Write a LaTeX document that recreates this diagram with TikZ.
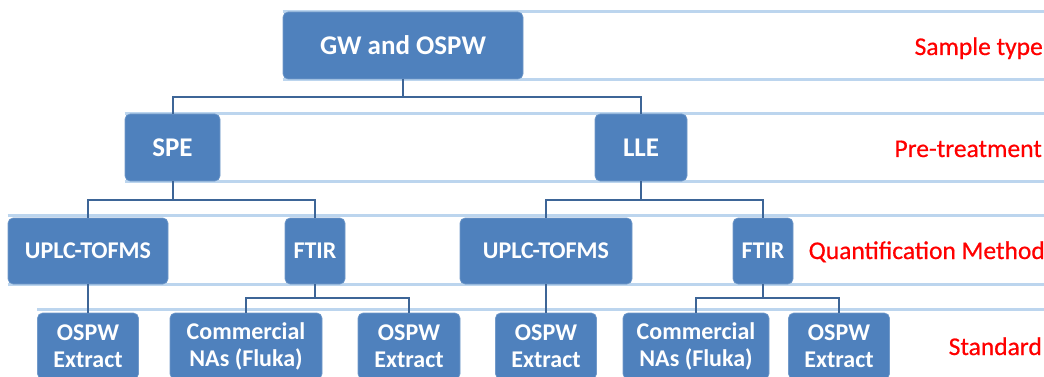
\documentclass[tikz,border=0pt]{standalone}
\usepackage{fontspec}
\setmainfont{Carlito}
\newfontfamily\levelfont{Carlito}[FakeBold=0.6]
\usetikzlibrary{backgrounds}
\definecolor{boxblue}{HTML}{4F81BD}
\definecolor{linkblue}{HTML}{3D6597}
\definecolor{bandblue}{HTML}{BCD5EE}
\begin{document}
\begin{tikzpicture}[x=1pt,y=-1pt,
	box/.style={draw=boxblue!80!white,line width=0.6pt,fill=boxblue,rounded corners=5pt,
		text=white,font=\bfseries\fontsize{24}{27}\selectfont,align=center,inner sep=0pt,minimum height=66pt},
	bigbox/.style={box,font=\bfseries\fontsize{27}{30}\selectfont,minimum height=67pt},
	link/.style={draw=linkblue,line width=2pt},
	band/.style={draw=bandblue,line width=2.6pt},
	level/.style={anchor=base east,text=red,font=\levelfont\fontsize{25.5}{28}\selectfont,inner sep=0pt}]
\clip (0,0) rectangle (1044,377);
\coordinate (E) at (1044,0);
% boxes
\node[bigbox,minimum width=240pt] (gw) at (403,45.5) {GW and OSPW};
\node[bigbox,minimum width=95pt] (spe) at (172.5,147.5) {SPE};
\node[bigbox,minimum width=92pt] (lle) at (641,147.5) {LLE};
\node[box,minimum width=160pt] (uplcA) at (88,251) {UPLC-TOFMS};
\node[box,minimum width=60pt] (ftirA) at (315,251) {FTIR};
\node[box,minimum width=172pt] (uplcB) at (546,251) {UPLC-TOFMS};
\node[box,minimum width=60pt] (ftirB) at (763,251) {FTIR};
\node[box,minimum width=101pt] (extA) at (88,346) {OSPW\\Extract};
\node[box,minimum width=152pt] (comA) at (246,346) {Commercial\\NAs (Fluka)};
\node[box,minimum width=102pt] (extB) at (409,346) {OSPW\\Extract};
\node[box,minimum width=101pt] (extC) at (546,346) {OSPW\\Extract};
\node[box,minimum width=146pt] (comB) at (696,346) {Commercial\\NAs (Fluka)};
\node[box,minimum width=101pt] (extD) at (839,346) {OSPW\\Extract};
% levels
\node[level] (lsample) at (1043,55) {Sample type};
\node[level] (lpre) at (1042,157) {Pre-treatment};
\node[level] (lquant) at (1045,259) {Quantification Method};
\node[level] (lstd) at (1042,355) {Standard};
% links
\draw[link] (gw.south) -- ++(0,17.5) -| (spe.north);
\draw[link] (gw.south) -- ++(0,17.5) -| (lle.north);
\draw[link] (spe.south) -- ++(0,18.5) -| (uplcA.north);
\draw[link] (spe.south) -- ++(0,18.5) -| (ftirA.north);
\draw[link] (lle.south) -- ++(0,18.5) -| (uplcB.north);
\draw[link] (lle.south) -- ++(0,18.5) -| (ftirB.north);
\draw[link] (uplcA.south) -- (extA.north);
\draw[link] (uplcB.south) -- (extC.north);
\draw[link] (ftirA.south) -- ++(0,14) -| (comA.north);
\draw[link] (ftirA.south) -- ++(0,14) -| (extB.north);
\draw[link] (ftirB.south) -- ++(0,14) -| (comB.north);
\draw[link] (ftirB.south) -- ++(0,14) -| (extD.north);
% bands
\begin{scope}[on background layer]
\fill[white] (0,0) rectangle (1044,377);
\draw[band] (gw.north west) -- (gw.north west -| E);
\draw[band] (gw.south west) -- (gw.south west -| E);
\draw[band] (spe.north west) -- (spe.north west -| E);
\draw[band] (spe.south west) -- (spe.south west -| E);
\draw[band] ([yshift=2pt]uplcA.north west) -- ([yshift=2pt]uplcA.north west -| E);
\draw[band] (uplcA.south west) -- (uplcA.south west -| E);
\draw[band] ([yshift=3pt]extA.north west) -- ([yshift=3pt]extA.north west -| E);
\end{scope}
\end{tikzpicture}
\end{document}
